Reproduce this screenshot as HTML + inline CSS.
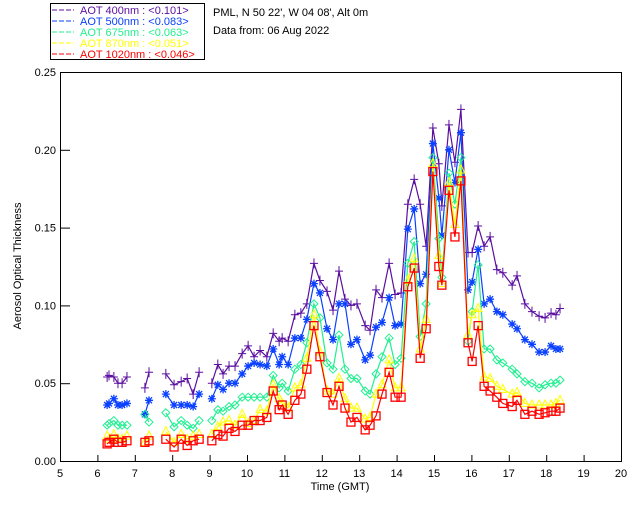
<!DOCTYPE html>
<html><head><meta charset="utf-8"><style>
html,body{margin:0;padding:0;background:#fff;}
svg{display:block;font-family:"Liberation Sans",sans-serif;}
</style></head><body>
<svg id="chart" width="640" height="512" viewBox="0 0 640 512" xmlns="http://www.w3.org/2000/svg">
<rect x="0" y="0" width="640" height="512" fill="#fff"/>
<g>
<rect x="50.5" y="3.5" width="154" height="56" fill="#fff" stroke="#000"/>
<g><line x1="52" y1="10" x2="74" y2="10" stroke="#5a0fa0" stroke-dasharray="5,2"/><text x="80" y="14" font-size="11" fill="#5a0fa0">AOT  400nm : &lt;0.101&gt;</text></g>
<g><line x1="52" y1="21" x2="74" y2="21" stroke="#0a40ff" stroke-dasharray="5,2"/><text x="80" y="25" font-size="11" fill="#0a40ff">AOT  500nm : &lt;0.083&gt;</text></g>
<g><line x1="52" y1="32" x2="74" y2="32" stroke="#20f090" stroke-dasharray="5,2"/><text x="80" y="36" font-size="11" fill="#20f090">AOT  675nm : &lt;0.063&gt;</text></g>
<g><line x1="52" y1="43" x2="74" y2="43" stroke="#ffff00" stroke-dasharray="5,2"/><text x="80" y="47" font-size="11" fill="#ffff00">AOT  870nm : &lt;0.051&gt;</text></g>
<g><line x1="52" y1="54" x2="74" y2="54" stroke="#ff0000" stroke-dasharray="5,2"/><text x="80" y="58" font-size="11" fill="#ff0000">AOT 1020nm : &lt;0.046&gt;</text></g>
</g>
<text x="213" y="16" font-size="11" fill="#000">PML, N 50 22', W 04 08', Alt 0m</text>
<text x="213" y="34" font-size="11" fill="#000">Data from: 06 Aug 2022</text>
<g id="axes"></g>
<g id="series"></g>
<text x="340" y="490" font-size="11" text-anchor="middle">Time (GMT)</text>
<text x="0" y="0" font-size="11" text-anchor="middle" transform="translate(21,266) rotate(-90)">Aerosol Optical Thickness</text>
</svg>
<script>
const times=[6.26,6.31,6.44,6.55,6.66,6.79, 7.27,7.38, 7.83,8.05,8.24,8.40,8.56,8.72,
9.06,9.22,9.36,9.52,9.68,9.87,10.03,10.19,10.35,10.53,10.70,10.86,10.94,11.10,11.28,11.44,11.60,11.79,11.95,12.14,12.30,12.46,
12.62,12.78,12.94,13.16,13.29,13.45,13.61,13.80,13.96,14.12,14.30,14.47,14.63,14.79,14.97,15.13,15.21,15.40,15.56,15.72,15.91,16.02,16.18,16.34,16.50,16.68,16.84,17.09,17.22,17.43,17.62,17.81,17.97,18.13,18.26,18.37];
const segmentStarts=[0,6,8,14];
const aot400=[.054,.055,.054,.050,.050,.054, .047,.057, .056,.049,.051,.053,.043,.057,
.050,.062,.056,.061,.061,.069,.074,.067,.071,.067,.082,.077,.079,.077,.094,.095,.101,.127,.116,.109,.097,.122,
.104,.100,.101,.087,.084,.110,.105,.127,.107,.108,.165,.181,.165,.138,.214,.191,.164,.216,.192,.226,.134,.134,.151,.138,.144,.123,.121,.113,.119,.101,.096,.093,.092,.095,.094,.098];
const aot500=[.036,.037,.040,.036,.036,.037, .030,.039, .043,.036,.036,.036,.035,.043,
.040,.049,.046,.050,.050,.056,.061,.063,.062,.061,.072,.062,.067,.062,.079,.079,.091,.114,.108,.085,.078,.101,
.101,.075,.078,.065,.068,.086,.089,.105,.087,.088,.149,.162,.114,.120,.204,.169,.145,.200,.179,.211,.110,.115,.136,.101,.104,.096,.094,.088,.085,.078,.075,.070,.070,.074,.072,.072];
const aot675=[.023,.024,.026,.023,.023,.023, .030,.025, .031,.022,.026,.023,.021,.026,
.026,.033,.032,.035,.036,.041,.041,.041,.041,.041,.055,.047,.050,.045,.059,.062,.076,.101,.092,.063,.059,.081,
.059,.053,.053,.045,.043,.056,.067,.079,.062,.066,.127,.141,.080,.101,.195,.143,.118,.185,.165,.195,.077,.096,.126,.072,.072,.065,.063,.059,.056,.051,.050,.047,.049,.050,.050,.052];
const aot870=[.016,.014,.017,.014,.014,.016, .012,.016, .019,.012,.017,.014,.016,.017,
.017,.022,.025,.026,.023,.030,.024,.026,.033,.032,.049,.040,.037,.034,.047,.049,.066,.094,.070,.045,.043,.053,
.040,.034,.034,.027,.028,.043,.049,.065,.047,.047,.116,.130,.072,.091,.191,.132,.114,.179,.152,.187,.081,.094,.098,.054,.053,.048,.046,.043,.044,.037,.036,.036,.036,.036,.037,.039];
const aot1020=[.011,.012,.014,.012,.012,.013, .012,.013, .014,.009,.014,.010,.013,.014,
.013,.017,.016,.021,.019,.023,.023,.026,.026,.028,.045,.033,.036,.030,.039,.043,.059,.087,.067,.044,.036,.048,
.034,.025,.028,.020,.023,.029,.043,.057,.041,.041,.112,.124,.066,.085,.186,.125,.113,.174,.144,.180,.076,.064,.087,.048,.045,.041,.037,.035,.039,.030,.032,.030,.031,.032,.032,.034];
const xTicks=[5,6,7,8,9,10,11,12,13,14,15,16,17,18,19,20];
const yTicks=[0,0.05,0.10,0.15,0.20,0.25];
const yTickLabels=["0.00","0.05","0.10","0.15","0.20","0.25"];

const NS="http://www.w3.org/2000/svg";
const X0=60,X1=621,Y0=461,Y1=72;
function xs(t){return X0+(t-5)/15*(X1-X0);}
function ys(v){return Y0-v/0.25*(Y0-Y1);}
function mk(tag,attrs,parent){const e=document.createElementNS(NS,tag);for(const k in attrs)e.setAttribute(k,attrs[k]);parent.appendChild(e);return e;}

const axes=document.getElementById('axes');
const frame=mk('rect',{x:X0+0.5,y:Y1+0.5,width:X1-X0,height:Y0-Y1,fill:'none',stroke:'#000'},axes);


xTicks.forEach(t=>{
  const l=mk('line',{x1:xs(t)+0.5,x2:xs(t)+0.5,y1:Y0,y2:Y0-6,stroke:'#000'},axes);
  
  
  const tx=mk('text',{x:xs(t),y:Y0+16,'font-size':11,'text-anchor':'middle'},axes);
  tx.textContent=String(t);
  
  
});
yTicks.forEach((v,i)=>{
  const l=mk('line',{x1:X0,x2:X0+10,y1:ys(v)+0.5,y2:ys(v)+0.5,stroke:'#000'},axes);
  
  
  const tx=mk('text',{x:X0-4,y:ys(v)+4,'font-size':11,'text-anchor':'end'},axes);
  tx.textContent=yTickLabels[i];
  
  
});

const seriesG=document.getElementById('series');
function marker(type,x,y,c,g){
  let e;
  if(type==='plus'){e=mk('path',{d:`M${x-4} ${y}H${x+4}M${x} ${y-5}V${y+5}`,stroke:c,fill:'none'},g);}
  else if(type==='star'){e=mk('path',{d:`M${x-4} ${y}H${x+4}M${x} ${y-4}V${y+4}M${x-3} ${y-3}L${x+3} ${y+3}M${x-3} ${y+3}L${x+3} ${y-3}`,stroke:c,'stroke-width':1.3,fill:'none'},g);}
  else if(type==='diamond'){e=mk('path',{d:`M${x} ${y-4}L${x+4} ${y}L${x} ${y+4}L${x-4} ${y}Z`,stroke:c,fill:'none'},g);}
  else if(type==='tri'){e=mk('path',{d:`M${x} ${y-5}L${x+4} ${y+3}L${x-4} ${y+3}Z`,stroke:c,fill:'none'},g);}
  else {e=mk('rect',{x:x-4,y:y-4,width:8,height:8,stroke:c,'stroke-width':1.3,fill:'none'},g);}
  
  
}
const defs=[[aot400,'#5a0fa0','plus','aot-400nm'],[aot500,'#0a40ff','star','aot-500nm'],[aot675,'#20f090','diamond','aot-675nm'],[aot870,'#ffff00','tri','aot-870nm'],[aot1020,'#ff0000','square','aot-1020nm']];
defs.forEach(([vals,c,type,name])=>{
  const g=mk('g',{},seriesG);
  
  
  for(let s=0;s<segmentStarts.length;s++){
    const a=segmentStarts[s],b=(s+1<segmentStarts.length?segmentStarts[s+1]:times.length);
    const pts=[];for(let i=a;i<b;i++)pts.push(xs(times[i]).toFixed(1)+','+ys(vals[i]).toFixed(1));
    const pl=mk('polyline',{points:pts.join(' '),fill:'none',stroke:c,'stroke-width':1.2},g);
    
    
  }
  for(let i=0;i<times.length;i++)marker(type,xs(times[i]),ys(vals[i]),c,g);
});
</script>
</body></html>
